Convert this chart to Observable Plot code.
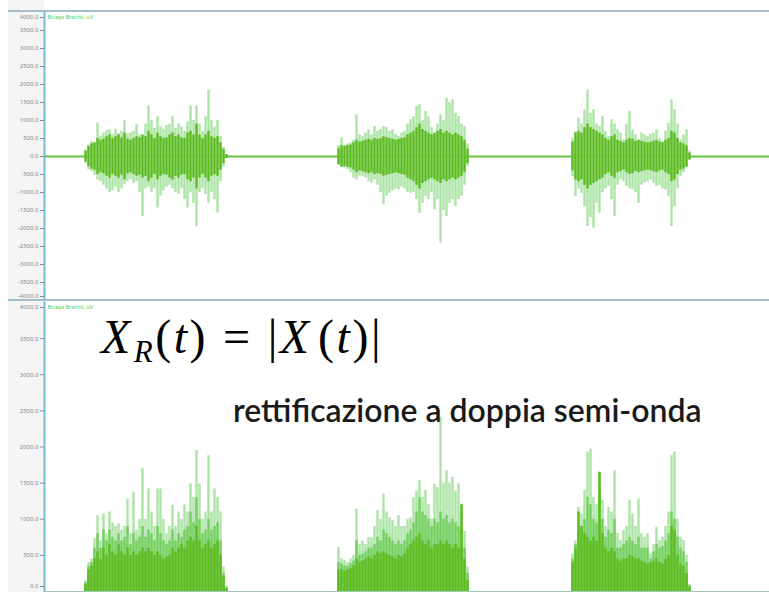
<!DOCTYPE html>
<html>
<head>
<meta charset="utf-8">
<script src="https://cdn.jsdelivr.net/npm/d3@7"></script>
<script src="https://cdn.jsdelivr.net/npm/@observablehq/plot@0.6"></script>
<style>
  html, body { margin: 0; padding: 0; background: #fff; }
  #wrap { position: relative; width: 769px; height: 592px; overflow: hidden;
    background: linear-gradient(to right, #fff 0, #fff 8px, #f5f5f5 8px, #f5f5f5 44px, #fff 44px); }
  #top, #bottom { position: absolute; left: 0; }
  #top { top: 0; }
  #bottom { top: 300px; }
  .sep { position: absolute; left: 8px; width: 761px; height: 2px; background: #a9bccb; }
  #formula { position: absolute; left: 101px; top: 312px; font-family: "Liberation Serif", "DejaVu Serif", serif;
    font-size: 48px; line-height: 50px; color: #000; white-space: nowrap; letter-spacing: 2.5px; }
  #formula i { font-style: italic; }
  #formula sub { font-style: italic; font-size: 31px; vertical-align: -9px; line-height: 0; margin-left: 1px; }
  #formula .eq { margin: 0 15px; }
  #subtitle { position: absolute; left: 233px; top: 393px; font-family: Lato, "Open Sans", sans-serif;
    font-size: 32px; font-weight: 600; line-height: 34px; color: #1a1a1a; white-space: nowrap; }
</style>
</head>
<body>
<div id="wrap">
  <div id="top"></div>
  <div id="bottom"></div>
  <div class="sep" style="top:10px"></div>
  <div class="sep" style="top:299px"></div>
  <div id="formula"><i>X</i><sub>R</sub>(<i>t</i>)<span class="eq">=</span>|<i>X</i>&#8202;(<i>t</i>)|</div>
  <div id="subtitle">rettificazione a doppia semi-onda</div>
</div>
<script>
// ---- Data (µV); one value per 0.03 s column ----
const channelLabel = "Biceps Brachii, uV";
const burstStart = [0.41, 2.94, 5.28];   // seconds
const sampleStep = 0.03;                 // seconds
const timeDomain = [0, 7.25];

// Raw signal X(t): light envelope (hi / lo) and dense core amplitude
const b1Hi = [180,320,420,380,930,560,650,720,740,600,760,640,700,1000,620,660,700,880,600,520,900,1400,1000,780,1100,820,760,860,900,1100,780,900,820,700,960,1400,1000,1400,900,700,1100,1850,1000,820,1000,560,260,60];
const b1Lo = [-200,-370,-420,-520,-650,-700,-800,-900,-1000,-950,-850,-1000,-900,-780,-700,-650,-750,-700,-1000,-1670,-900,-850,-1000,-900,-1430,-1100,-950,-850,-800,-900,-1000,-1050,-900,-1200,-1430,-1000,-1300,-1950,-1000,-900,-1050,-1300,-1000,-1200,-1570,-700,-300,-60];
const b1Core = [150,280,350,380,500,450,480,550,600,500,550,600,520,650,480,450,500,550,520,600,550,700,600,500,650,550,500,520,600,650,550,600,520,500,650,700,600,900,600,500,600,700,550,500,550,380,200,50];

const b2Hi = [300,520,300,350,380,450,1160,600,560,650,740,600,830,700,750,830,800,700,740,620,560,650,700,900,1020,1100,1390,1435,1000,1250,1100,800,600,900,1160,1000,1620,1500,1575,1200,1110,900,830,350];
const b2Lo = [-250,-280,-320,-370,-450,-600,-650,-550,-555,-600,-700,-740,-650,-800,-1000,-1340,-1100,-1020,-950,-900,-925,-850,-900,-1000,-1020,-1000,-1200,-1575,-1300,-1110,-1200,-1000,-1480,-1200,-2410,-1500,-1670,-1300,-1200,-1390,-1200,-1110,-800,-280];
const b2Core = [220,300,280,300,320,380,450,400,420,450,480,450,500,480,500,550,520,500,480,450,480,500,520,600,650,700,800,900,750,700,650,600,650,700,750,650,700,650,600,650,600,550,450,200];

const b3Hi = [510,700,1065,900,1300,1850,1200,1300,900,830,1110,700,555,1020,900,740,650,460,900,1250,740,600,460,650,600,555,620,650,740,500,415,700,925,1575,1300,900,460,600,740,150];
const b3Lo = [-555,-1110,-900,-1020,-1400,-1945,-1700,-1990,-1300,-1575,-1000,-900,-830,-1200,-1670,-800,-650,-700,-830,-900,-925,-1000,-1300,-800,-740,-700,-650,-750,-830,-800,-900,-925,-1100,-1945,-1390,-900,-555,-450,-280,-100];
const b3Core = [400,650,700,650,800,900,800,750,700,650,600,500,450,550,600,450,420,380,450,500,480,420,450,420,400,380,400,420,450,400,380,450,500,700,650,500,380,350,300,100];

// Rectified signal |X(t)|: peak, mid layer, dense core
const r1Peak = [150,400,450,730,1050,700,1075,800,1100,950,900,935,850,900,1280,800,1375,850,1000,1700,1000,1420,1100,900,1420,1420,1000,800,900,1190,900,1100,1000,1200,1100,1490,1300,1950,1490,1000,1100,1880,1100,1420,1300,1100,340,80];
const r1Mid = [120,350,400,600,800,600,850,700,850,750,700,800,700,750,900,650,800,700,750,900,750,850,800,700,900,800,700,650,700,850,700,800,750,850,900,1100,950,1300,1000,800,850,1000,850,900,950,700,250,50];
const r1Core = [100,300,350,450,550,450,600,500,650,550,500,650,550,500,600,500,550,500,550,600,550,600,550,500,550,500,450,480,500,600,550,600,650,600,700,750,700,900,700,600,650,700,600,650,700,500,200,40];

const r2Peak = [610,450,430,400,450,500,1140,650,700,650,750,740,900,1120,1000,1350,1100,1020,980,900,1050,900,900,1000,1020,1300,1390,1535,1300,1400,1200,1000,1480,1440,2410,1500,1670,1500,1580,1390,1490,1210,830,340];
const r2Mid = [400,380,350,350,380,420,700,500,520,550,600,600,650,750,700,850,800,750,700,650,700,650,700,800,850,950,1100,1300,1100,1050,1000,900,1000,950,1100,1000,1050,950,1000,950,900,850,600,250];
const r2Core = [300,300,280,300,320,350,450,400,420,450,480,450,500,550,520,550,520,500,480,450,500,480,520,600,650,700,750,800,700,650,700,600,650,650,700,650,700,650,600,650,600,1200,450,150];

const r3Peak = [520,700,1165,1075,1400,1930,1970,1300,1200,1650,1260,900,1165,1100,1670,800,705,845,900,1260,1075,900,1280,800,750,800,520,650,890,700,750,900,1100,1880,1930,1000,750,705,500,100];
const r3Mid = [450,650,900,850,1000,1300,1200,1000,950,1400,1000,750,850,800,1000,600,600,650,700,750,700,650,750,600,600,600,450,550,650,600,620,700,800,1100,1000,750,600,550,400,80];
const r3Core = [400,600,1100,900,800,750,700,750,700,1650,800,600,550,600,550,450,420,450,450,500,480,450,450,420,400,380,400,420,450,400,380,450,500,900,850,500,380,350,250,60];

const topTicks = [3500,3000,2500,2000,1500,1000,500,0,-500,-1000,-1500,-2000,-2500,-3000,-3500];
const bottomTicks = [500,1000,1500,2000,2500,3000,3500];

// ---- Build tables ----
const raw = [[b1Hi,b1Lo,b1Core],[b2Hi,b2Lo,b2Core],[b3Hi,b3Lo,b3Core]];
const rect = [[r1Peak,r1Mid,r1Core],[r2Peak,r2Mid,r2Core],[r3Peak,r3Mid,r3Core]];
const rawRows = [], rectRows = [];
raw.forEach(([hi, lo, core], b) => hi.forEach((v, i) => rawRows.push({t: burstStart[b] + i*sampleStep, hi: v, lo: lo[i], core: core[i]})));
rect.forEach(([pk, mid, core], b) => pk.forEach((v, i) => rectRows.push({t: burstStart[b] + i*sampleStep, peak: v, mid: mid[i], core: core[i]})));

const fmt = d => d.toFixed(1);
const axisStyle = {tickSize: 4, tickPadding: 2, fontSize: 6, color: "#8a8a8a", tickFormat: fmt};
const light = "#abe4a5", medium = "#74cf5e", dark = "#5dba1f";

const topPlot = Plot.plot({
  width: 769, height: 300,
  marginLeft: 44, marginRight: 0, marginTop: 12, marginBottom: 0,
  style: {background: "transparent"},
  x: {domain: timeDomain, axis: null},
  y: {domain: [-4000, 4000], axis: null},
  marks: [
    Plot.ruleY([0], {stroke: "#66c63a", strokeWidth: 2}),
    Plot.ruleX(rawRows, {x: "t", y1: "lo", y2: "hi", stroke: light, strokeWidth: 2.4}),
    Plot.ruleX(rawRows, {x: "t", y1: d => -d.core, y2: "core", stroke: dark, strokeWidth: 2.4}),
    Plot.axisY(topTicks, {...axisStyle, anchor: "left"}),
    Plot.axisY([4000], {...axisStyle, anchor: "left", dy: 5}),
    Plot.axisY([-4000], {...axisStyle, anchor: "left", dy: -4}),
    Plot.frame({anchor: "left", stroke: "#c98a8a", strokeWidth: 1.5}),
    Plot.frame({anchor: "left", stroke: "#63bfdc", strokeWidth: 1.5, strokeDasharray: "3,2"}),
    Plot.text([channelLabel], {frameAnchor: "top-left", dx: 3, dy: 3, fill: "#3fcf5a", fontSize: 5.5, textAnchor: "start"})
  ]
});
document.getElementById("top").appendChild(topPlot);

const bottomPlot = Plot.plot({
  width: 769, height: 292,
  marginLeft: 44, marginRight: 0, marginTop: 2, marginBottom: 1,
  style: {background: "transparent"},
  x: {domain: timeDomain, axis: null},
  y: {domain: [0, 4000], axis: null},
  marks: [
    Plot.ruleY([0], {stroke: "#9cc9b0", strokeWidth: 1}),
    Plot.ruleX(rectRows, {x: "t", y1: 0, y2: "peak", stroke: light, strokeWidth: 2.4}),
    Plot.ruleX(rectRows, {x: "t", y1: 0, y2: "mid", stroke: medium, strokeWidth: 2.4}),
    Plot.ruleX(rectRows, {x: "t", y1: 0, y2: "core", stroke: dark, strokeWidth: 2.4}),
    Plot.axisY(bottomTicks, {...axisStyle, anchor: "left"}),
    Plot.axisY([4000], {...axisStyle, anchor: "left", dy: 5}),
    Plot.axisY([0], {...axisStyle, anchor: "left", dy: -5}),
    Plot.frame({anchor: "left", stroke: "#c98a8a", strokeWidth: 1.5}),
    Plot.frame({anchor: "left", stroke: "#63bfdc", strokeWidth: 1.5, strokeDasharray: "3,2"}),
    Plot.text([channelLabel], {frameAnchor: "top-left", dx: 3, dy: 3, fill: "#3fcf5a", fontSize: 5.5, textAnchor: "start"})
  ]
});
document.getElementById("bottom").appendChild(bottomPlot);
</script>
</body>
</html>
